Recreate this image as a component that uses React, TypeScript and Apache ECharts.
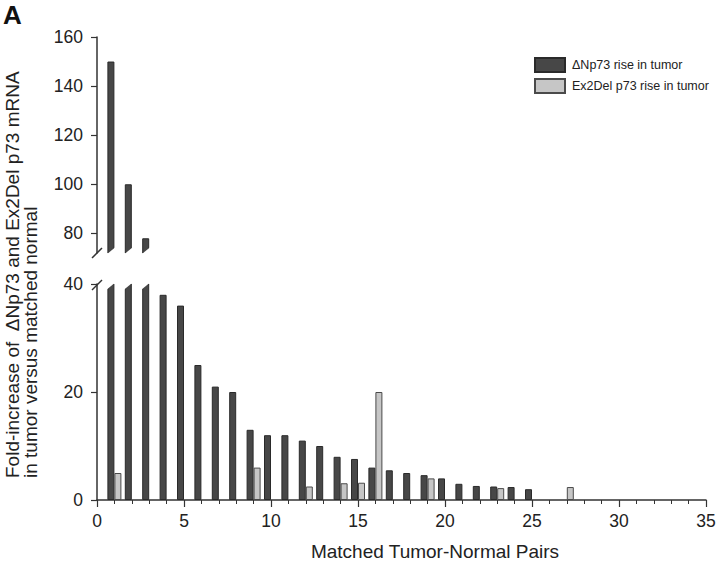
import React, { useEffect, useRef } from "react";
import * as echarts from "echarts";

// ---- data ----
const pairs = [1, 2, 3, 4, 5, 6, 7, 8, 9, 10, 11, 12, 13, 14, 15, 16, 17, 18, 19, 20, 21, 22, 23, 24, 25, 26, 27];
const dNp73: (number | null)[] = [150, 100, 78, 38, 36, 25, 21, 20, 13, 12, 12, 11, 10, 8, 7.6, 6, 5.5, 5, 4.6, 4, 3, 2.6, 2.5, 2.4, 2, null, null];
const ex2del: (number | null)[] = [5, null, null, null, null, null, null, null, 6, null, null, 2.5, null, 3.1, 3.2, 20, null, null, 4, null, null, null, 2.2, null, null, null, 2.4];
const xTicks = [0, 5, 10, 15, 20, 25, 30, 35];
const topTicks = [80, 100, 120, 140, 160];
const bottomTicks = [0, 20, 40];
const topMin = 72;
const topMax = 160;
const bottomMax = 40;

const DARK_NAME = "ΔNp73 rise in tumor";
const LIGHT_NAME = "Ex2Del p73 rise in tumor";
const FONT = "'Liberation Sans', Arial, Helvetica, sans-serif";

const darkStyle = { color: "#474747", borderColor: "#2a2a2a", borderWidth: 1 };
const lightStyle = { color: "#c6c6c6", borderColor: "#4a4a4a", borderWidth: 1 };
const axisColor = "#333";
const BAR_W = 7;

export default function App() {
  const ref = useRef<HTMLDivElement>(null);
  useEffect(() => {
    if (!ref.current) return;
    const chart = echarts.init(ref.current, undefined, { renderer: "svg" });

    const toPts = (arr: (number | null)[], keep: (v: number) => boolean) =>
      pairs.map((p, i) => {
        const v = arr[i];
        return [p, v != null && keep(v) ? v : "-"];
      });

    const topCuts = pairs.filter((p, i) => (dNp73[i] ?? 0) > topMin).map((p) => [p, topMin]);
    const bottomCuts = pairs.filter((p, i) => (dNp73[i] ?? 0) > bottomMax).map((p) => [p, bottomMax]);

    const xAxisBase = {
      type: "value",
      min: xTicks[0],
      max: xTicks[xTicks.length - 1],
      interval: xTicks[1] - xTicks[0],
    };

    const option: any = {
      animation: false,
      backgroundColor: "#fff",
      textStyle: { fontFamily: FONT },
      grid: [
        { left: 97, right: 14, top: 37, height: 216 },
        { left: 97, right: 14, top: 284, height: 216 },
      ],
      legend: {
        data: [DARK_NAME, LIGHT_NAME],
        orient: "vertical",
        left: 534,
        top: 57,
        padding: 0,
        itemWidth: 30,
        itemHeight: 14,
        itemGap: 5,
        icon: "rect",
        selectedMode: false,
        textStyle: { fontSize: 12.5, color: "#222", fontFamily: FONT, padding: [0, 0, 0, 2] },
      },
      xAxis: [
        { ...xAxisBase, gridIndex: 0, show: false },
        {
          ...xAxisBase,
          gridIndex: 1,
          axisLine: { show: true, onZero: false, lineStyle: { color: axisColor, width: 1.5 } },
          axisTick: { show: true, length: 7, lineStyle: { color: axisColor, width: 1.2 } },
          minorTick: { show: true, splitNumber: 5, length: 4, lineStyle: { color: axisColor, width: 1 } },
          axisLabel: { fontSize: 17.5, color: "#222", margin: 12, fontFamily: FONT },
          splitLine: { show: false },
          minorSplitLine: { show: false },
        },
      ],
      yAxis: [
        {
          type: "value",
          gridIndex: 0,
          min: topMin,
          max: topMax,
          axisLine: { show: true, onZero: false, lineStyle: { color: axisColor, width: 1.5 } },
          axisTick: { show: true, length: 6, customValues: topTicks, lineStyle: { color: axisColor, width: 1.2 } },
          axisLabel: { fontSize: 17.5, color: "#222", margin: 14, customValues: topTicks, fontFamily: FONT },
          splitLine: { show: false },
        },
        {
          type: "value",
          gridIndex: 1,
          min: 0,
          max: bottomMax,
          interval: 20,
          axisLine: { show: true, onZero: false, lineStyle: { color: axisColor, width: 1.5 } },
          axisTick: { show: true, length: 6, customValues: bottomTicks, lineStyle: { color: axisColor, width: 1.2 } },
          axisLabel: { fontSize: 17.5, color: "#222", margin: 14, customValues: bottomTicks, fontFamily: FONT },
          splitLine: { show: false },
        },
      ],
      series: [
        {
          name: DARK_NAME,
          type: "bar",
          xAxisIndex: 1,
          yAxisIndex: 1,
          data: toPts(dNp73, () => true),
          barWidth: BAR_W,
          barGap: "0%",
          clip: true,
          itemStyle: darkStyle,
        },
        {
          name: LIGHT_NAME,
          type: "bar",
          xAxisIndex: 1,
          yAxisIndex: 1,
          data: toPts(ex2del, () => true),
          barWidth: BAR_W,
          barGap: "0%",
          clip: true,
          itemStyle: lightStyle,
        },
        {
          name: DARK_NAME,
          type: "bar",
          xAxisIndex: 0,
          yAxisIndex: 0,
          data: toPts(dNp73, (v) => v > topMin),
          barWidth: BAR_W,
          barGap: "0%",
          clip: true,
          itemStyle: darkStyle,
        },
        {
          name: LIGHT_NAME,
          type: "bar",
          xAxisIndex: 0,
          yAxisIndex: 0,
          data: toPts(ex2del, (v) => v > topMin),
          barWidth: BAR_W,
          barGap: "0%",
          clip: true,
          itemStyle: lightStyle,
        },
        // slanted cut at the bottom of the broken bars (upper panel)
        {
          type: "custom",
          xAxisIndex: 0,
          yAxisIndex: 0,
          z: 5,
          silent: true,
          data: topCuts,
          renderItem: (params: any, api: any) => {
            const c = api.coord([api.value(0), api.value(1)]);
            const cx = c[0];
            const by = c[1];
            return {
              type: "polygon",
              shape: {
                points: [
                  [cx - BAR_W - 1.5, by + 2],
                  [cx + 1.5, by + 2],
                  [cx + 1.5, by - 6.3],
                ],
              },
              style: { fill: "#fff" },
            };
          },
        },
        // slanted cut at the top of the broken bars (lower panel)
        {
          type: "custom",
          xAxisIndex: 1,
          yAxisIndex: 1,
          z: 5,
          silent: true,
          data: bottomCuts,
          renderItem: (params: any, api: any) => {
            const c = api.coord([api.value(0), api.value(1)]);
            const cx = c[0];
            const ty = c[1];
            return {
              type: "polygon",
              shape: {
                points: [
                  [cx - BAR_W - 1.5, ty - 2],
                  [cx + 1.5, ty - 2],
                  [cx - BAR_W - 1.5, ty + 6.3],
                ],
              },
              style: { fill: "#fff" },
            };
          },
        },
        // axis break slashes
        {
          type: "custom",
          xAxisIndex: 0,
          yAxisIndex: 0,
          z: 6,
          silent: true,
          data: [[xTicks[0], topMin]],
          renderItem: (params: any, api: any) => {
            const c = api.coord([api.value(0), api.value(1)]);
            return {
              type: "line",
              shape: { x1: c[0] - 5, y1: c[1] + 5, x2: c[0] + 5, y2: c[1] - 5 },
              style: { stroke: axisColor, lineWidth: 1.5 },
            };
          },
        },
        {
          type: "custom",
          xAxisIndex: 1,
          yAxisIndex: 1,
          z: 6,
          silent: true,
          data: [[xTicks[0], bottomMax]],
          renderItem: (params: any, api: any) => {
            const c = api.coord([api.value(0), api.value(1)]);
            return {
              type: "line",
              shape: { x1: c[0] - 5, y1: c[1] + 6, x2: c[0] + 5, y2: c[1] - 4 },
              style: { stroke: axisColor, lineWidth: 1.5 },
            };
          },
        },
      ],
      graphic: [
        {
          type: "text",
          left: 3,
          top: 2,
          style: { text: "A", fontSize: 26, fontWeight: "bold", fill: "#111", fontFamily: FONT },
        },
        {
          type: "text",
          x: 12,
          y: 478,
          rotation: Math.PI / 2,
          style: {
            text: "Fold-increase of  ΔNp73 and Ex2Del p73 mRNA",
            fontSize: 19,
            fill: "#222",
            fontFamily: FONT,
            textAlign: "left",
            textVerticalAlign: "middle",
          },
        },
        {
          type: "text",
          x: 30,
          y: 478,
          rotation: Math.PI / 2,
          style: {
            text: "in tumor versus matched normal",
            fontSize: 19,
            fill: "#222",
            fontFamily: FONT,
            textAlign: "left",
            textVerticalAlign: "middle",
          },
        },
        {
          type: "text",
          x: 435,
          y: 551,
          style: {
            text: "Matched Tumor-Normal Pairs",
            fontSize: 19,
            fill: "#222",
            fontFamily: FONT,
            textAlign: "center",
            textVerticalAlign: "middle",
          },
        },
      ],
    };

    chart.setOption(option);
    return () => chart.dispose();
  }, []);

  return (
    <div
      ref={ref}
      style={{ position: "fixed", left: 0, top: 0, width: 720, height: 565, background: "#fff" }}
    />
  );
}
